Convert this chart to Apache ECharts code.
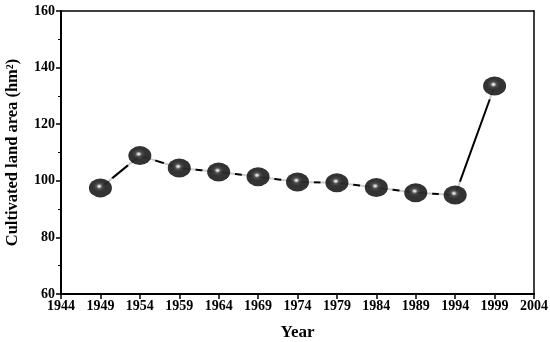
<!DOCTYPE html>
<html><head><meta charset="utf-8">
<script src="https://cdn.jsdelivr.net/npm/echarts@6/dist/echarts.min.js"></script>
<style>html,body{margin:0;padding:0;background:#fff}#c{width:550px;height:342px}</style>
</head><body><div id="c"></div>
<script>
var years = [1949, 1954, 1959, 1964, 1969, 1974, 1979, 1984, 1989, 1994, 1999];
var area = [97.5, 108.9, 104.5, 103.1, 101.4, 99.6, 99.3, 97.6, 95.8, 95.0, 133.5];
var xTicks = [1944, 1949, 1954, 1959, 1964, 1969, 1974, 1979, 1984, 1989, 1994, 1999, 2004];
var yTicks = [60, 80, 100, 120, 140, 160];

var pts = years.map(function(y, i){ return [y, area[i]]; });
var font = '"Liberation Serif", "Times New Roman", serif';
var chart = echarts.init(document.getElementById('c'));
var ball = new echarts.graphic.RadialGradient(0.45, 0.42, 0.55, [
  {offset: 0, color: '#ffffff'},
  {offset: 0.1, color: '#bbbbbb'},
  {offset: 0.25, color: '#222222'},
  {offset: 0.5, color: '#000000'},
  {offset: 1, color: '#000000'}
]);
chart.setOption({
  animation: false,
  grid: {left: 61, right: 16, top: 11, bottom: 48, containLabel: false, outerBoundsMode: 'none'},
  xAxis: [{
    type: 'value', min: xTicks[0], max: xTicks[xTicks.length-1], interval: 5,
    axisLine: {lineStyle: {color: '#000', width: 2}},
    axisTick: {length: 5, lineStyle: {color: '#000', width: 1.5}},
    splitLine: {show: false},
    axisLabel: {color: '#000', fontFamily: font, fontWeight: 'bold', fontSize: 14, margin: 5,
      formatter: function(v){ return String(v); }},
    name: 'Year', nameLocation: 'middle', nameGap: 30,
    nameTextStyle: {color: '#000', fontFamily: font, fontWeight: 'bold', fontSize: 17}
  }, {
    type: 'value', position: 'top', min: xTicks[0], max: xTicks[xTicks.length-1],
    axisLine: {show: true, lineStyle: {color: '#000', width: 1.5}},
    axisTick: {show: false}, axisLabel: {show: false}, splitLine: {show: false}
  }],
  yAxis: [{
    type: 'value', min: yTicks[0], max: yTicks[yTicks.length-1], interval: 20,
    axisLine: {show: true, lineStyle: {color: '#000', width: 2}},
    axisTick: {show: true, length: 5, lineStyle: {color: '#000', width: 1.5}},
    minorTick: {show: true, splitNumber: 2, length: 3, lineStyle: {color: '#000', width: 1}},
    splitLine: {show: false},
    axisLabel: {color: '#000', fontFamily: font, fontWeight: 'bold', fontSize: 14, margin: 6},
    name: 'Cultivated land area (hm\u00B2)', nameLocation: 'middle', nameGap: 40, nameRotate: 90,
    nameTextStyle: {color: '#000', fontFamily: font, fontWeight: 'bold', fontSize: 16.5}
  }, {
    type: 'value', position: 'right', min: yTicks[0], max: yTicks[yTicks.length-1],
    axisLine: {show: true, lineStyle: {color: '#000', width: 1.5}},
    axisTick: {show: false}, axisLabel: {show: false}, splitLine: {show: false}
  }],
  series: [{
    type: 'line', data: pts, showSymbol: false, symbol: 'none', z: 1,
    lineStyle: {color: '#000', width: 2}
  }, {
    type: 'scatter', data: pts, symbol: 'circle', symbolSize: [33, 28], z: 2,
    itemStyle: {color: '#fff'}, silent: true
  }, {
    type: 'scatter', data: pts, symbol: 'circle', symbolSize: [23, 19], z: 3,
    itemStyle: {color: ball}
  }]
});
</script></body></html>
